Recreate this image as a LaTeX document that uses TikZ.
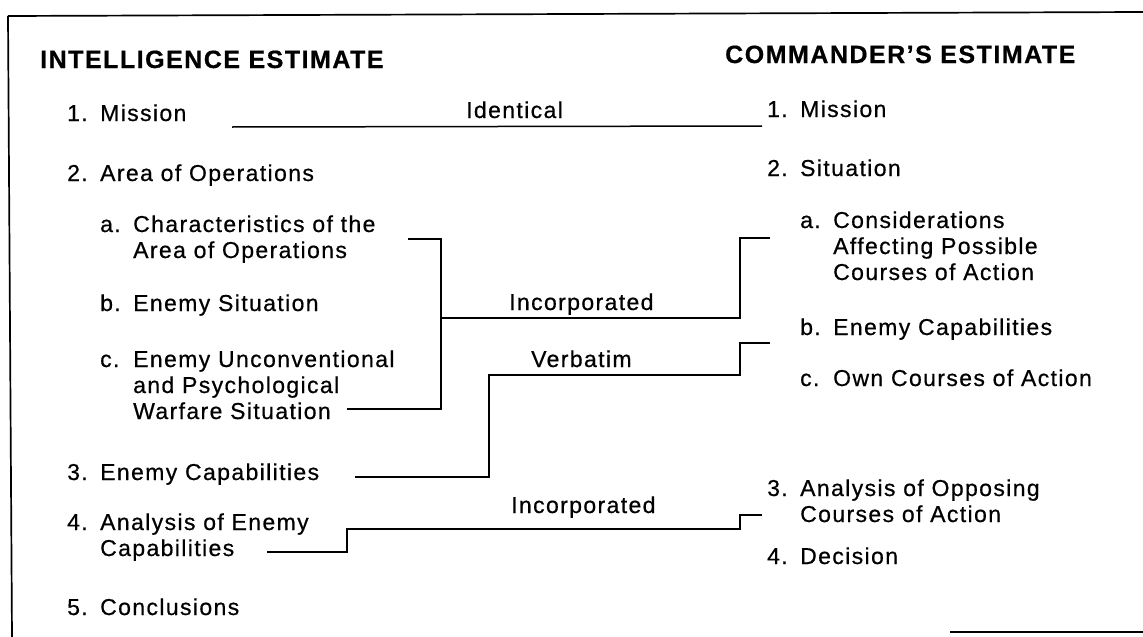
\documentclass[tikz,border=0pt]{standalone}
\usepackage{fontspec}
\setmainfont{Liberation Sans}[LetterSpace=6, FakeBold=0.6]
\newlength{\labw}
\setlength{\labw}{33pt}
\newcommand{\lab}[1]{\makebox[\labw][l]{#1}}
\begin{document}
\begin{tikzpicture}[x=1pt,y=-1pt,
  txt/.style={anchor=base west, inner sep=0pt, font=\fontsize{23}{26}\selectfont},
  head/.style={anchor=base west, inner sep=0pt, font=\fontsize{25}{28}\selectfont\bfseries},
  link/.style={line width=1.5pt, line join=miter},
  frame/.style={line width=1.7pt}]
\useasboundingbox (0,0) rectangle (1143,637);

% outer frame (open on the right)
\coordinate (ftl) at (8,16);
\coordinate (ftr) at (1143,12);
\coordinate (fbl) at (12,637);
\coordinate (fbr1) at (950,632);
\coordinate (fbr2) at (1143,632);
\draw[frame] (ftl) -- (ftr);
\draw[frame] (ftl) -- (fbl);
\draw[frame] (fbr1) -- (fbr2);

% headings
\node[head] (hInt) at (40,68) {INTELLIGENCE ESTIMATE};
\node[head] (hCom) at (725,63) {COMMANDER'S ESTIMATE};

% intelligence estimate
\node[txt] (l1)  at (67,121) {\lab{1.}Mission};
\node[txt] (l2)  at (67,181) {\lab{2.}Area of Operations};
\node[txt] (l2a) at (100,232) {\lab{a.}Characteristics of the};
\node[txt] (l2a2) at (133,258) {Area of Operations};
\node[txt] (l2b) at (100,311) {\lab{b.}Enemy Situation};
\node[txt] (l2c) at (100,367) {\lab{c.}Enemy Unconventional};
\node[txt] (l2c2) at (133,393) {and Psychological};
\node[txt] (l2c3) at (133,419) {Warfare Situation};
\node[txt] (l3)  at (67,480) {\lab{3.}Enemy Capabilities};
\node[txt] (l4)  at (67,530) {\lab{4.}Analysis of Enemy};
\node[txt] (l42) at (100,556) {Capabilities};
\node[txt] (l5)  at (67,615) {\lab{5.}Conclusions};

% commander's estimate
\node[txt] (r1)  at (767,117) {\lab{1.}Mission};
\node[txt] (r2)  at (767,176) {\lab{2.}Situation};
\node[txt] (r2a) at (800,228) {\lab{a.}Considerations};
\node[txt] (r2a2) at (833,254) {Affecting Possible};
\node[txt] (r2a3) at (833,280) {Courses of Action};
\node[txt] (r2b) at (800,335) {\lab{b.}Enemy Capabilities};
\node[txt] (r2c) at (800,386) {\lab{c.}Own Courses of Action};
\node[txt] (r3)  at (767,496) {\lab{3.}Analysis of Opposing};
\node[txt] (r32) at (800,522) {Courses of Action};
\node[txt] (r4)  at (767,564) {\lab{4.}Decision};

% connector end points
\coordinate (mA) at (232,127);
\coordinate (mB) at (762,126);

\coordinate (aTop) at (408,239);
\coordinate (aBot) at (347,409);
\coordinate (aJoin) at (441,318);
\coordinate (aOut) at (770,238);

\coordinate (vIn) at (355,477);
\coordinate (vOut) at (770,343);

\coordinate (eIn) at (267,552);
\coordinate (eOut) at (762,515);

% Identical
\draw[link] (mA) -- (mB);
\node[txt] (tIdent) at (466,118) {Identical};

% Incorporated (2 a-c  ->  2 a)
\draw[link] (aTop) -- (441,239) -- (441,409) -- (aBot);
\draw[link] (aJoin) -- (740,318) -- (740,238) -- (aOut);
\node[txt] (tInc1) at (509,310) {Incorporated};

% Verbatim (3  ->  2 b)
\draw[link] (vIn) -- (489,477) -- (489,375) -- (740,375) -- (740,343) -- (vOut);
\node[txt] (tVerb) at (531,367) {Verbatim};

% Incorporated (4  ->  3)
\draw[link] (eIn) -- (347,552) -- (347,529) -- (740,529) -- (740,515) -- (eOut);
\node[txt] (tInc2) at (511,513) {Incorporated};
\end{tikzpicture}
\end{document}
